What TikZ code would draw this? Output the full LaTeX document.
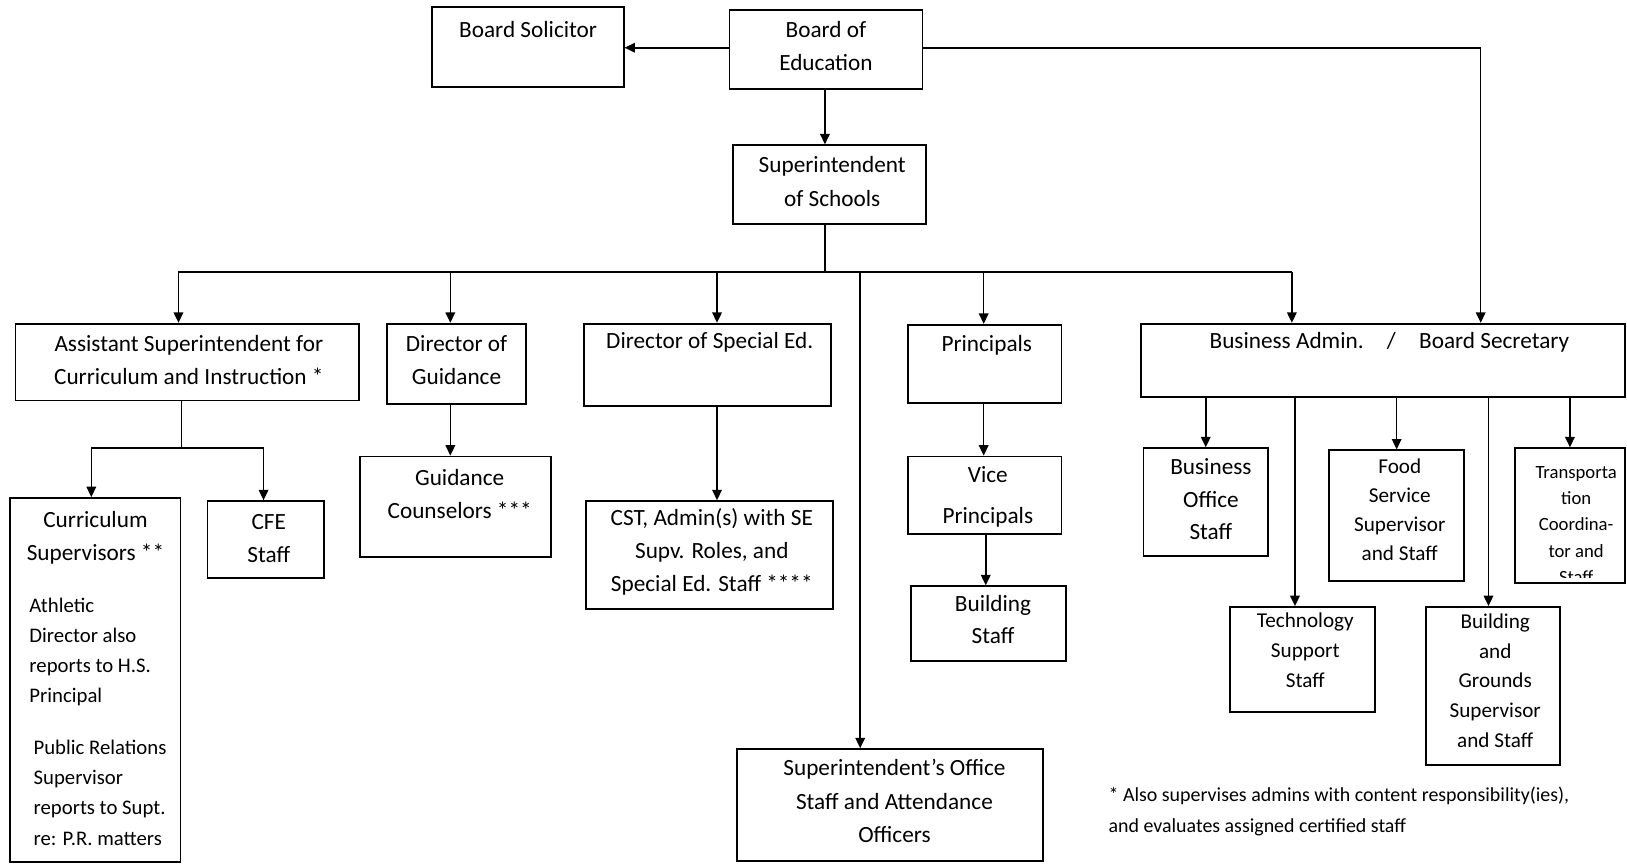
\documentclass[tikz,border=0pt]{standalone}
\usepackage{fontspec}
\setmainfont{Carlito}
\usetikzlibrary{arrows.meta,fit}
\begin{document}
\begin{tikzpicture}[x=0.5pt,y=-0.5pt,
  box/.style={draw, line width=0.9pt, inner sep=0pt},
  conn/.style={line width=0.75pt},
  arr/.style={conn, -{Triangle[length=5pt,width=4.6pt]}},
  txt/.style={align=center, inner sep=0pt, font=\fontsize{11.2}{16}\selectfont},
  txtm/.style={align=center, inner sep=0pt, font=\fontsize{10.2}{14.4}\selectfont},
  txts/.style={align=left, inner sep=0pt, anchor=west, font=\fontsize{10}{14.5}\selectfont},
  txtt/.style={align=center, inner sep=0pt, font=\fontsize{9}{12.75}\selectfont},
  note/.style={align=left, inner sep=0pt, anchor=west, font=\fontsize{9.6}{14.5}\selectfont}]
\useasboundingbox (0,0) rectangle (1568,833);
% boxes
\node[box, fit={(416,7)(601,84)}] (sol) {};
\node[box, fit={(703,10)(889,86)}] (boe) {};
\node[box, fit={(706,140)(892,216)}] (sup) {};
\node[box, fit={(15,312)(346,386)}] (asst) {};
\node[box, fit={(373,312)(507,389)}] (gd) {};
\node[box, fit={(563,312)(801,391)}] (sped) {};
\node[box, fit={(875,313)(1023,388)}] (prin) {};
\node[box, fit={(1100,312)(1566,383)}] (ba) {};
\node[box, fit={(10,480)(174,831)}] (cur) {};
\node[box, fit={(200,483)(312,557)}] (cfe) {};
\node[box, fit={(347,440)(531,537)}] (gc) {};
\node[box, fit={(565,483)(803,587)}] (cst) {};
\node[box, fit={(875,440)(1023,515)}] (vp) {};
\node[box, fit={(878,565)(1027,637)}] (bst) {};
\node[box, fit={(710,722)(1005,830)}] (soff) {};
\node[box, fit={(1102,432)(1222,536)}] (bos) {};
\node[box, fit={(1185,585)(1325,686)}] (tech) {};
\node[box, fit={(1281,434)(1411,560)}] (food) {};
\node[box, fit={(1374,585)(1503,737)}] (bg) {};
\node[box, fit={(1460,432)(1566,562)}] (trn) {};
% texts
\node[txt] (tsol) at (509,28) {Board Solicitor};
\node[txt] (tboe) at (796,44) {Board of\\Education};
\node[txt] (tsup) at (802,175) {Superintendent\\of Schools};
\node[txt] (tasst) at (182,347) {Assistant Superintendent for\\Curriculum and Instruction *};
\node[txt] (tgd) at (440,347) {Director of\\Guidance};
\node[txt] (tsped) at (684,330) {Director of Special Ed.};
\node[txt] (tprin) at (951,333) {Principals};
\node[txt] (tba) at (1339,330) {Business Admin.\quad/\quad Board Secretary};
\node[txt] (tcur) at (92,518) {Curriculum\\Supervisors **};
\node[txts] (tath) at (28,628) {Athletic\\Director also\\reports to H.S.\\Principal};
\node[txts] (tpr) at (32,764) {Public Relations\\Supervisor\\reports to Supt.\\re: P.R. matters};
\node[txt] (tcfe) at (259,519) {CFE\\Staff};
\node[txt] (tgc) at (443,476) {Guidance\\Counselors ***};
\node[txt] (tcst) at (686,532) {CST, Admin(s) with SE\\Supv. Roles, and\\Special Ed. Staff ****};
\node[txt, font=\fontsize{11.2}{20}\selectfont] (tvp) at (952,479) {Vice\\Principals};
\node[txt, font=\fontsize{11.2}{15}\selectfont] (tbst) at (957,597) {Building\\Staff};
\node[txt] (tsoff) at (862,772) {Superintendent’s Office\\Staff and Attendance\\Officers};
\node[txt, font=\fontsize{11.2}{15.5}\selectfont] (tbos) at (1167,481) {Business\\Office\\Staff};
\node[txtm] (ttech) at (1258,627) {Technology\\Support\\Staff};
\node[txtm, font=\fontsize{10.2}{14}\selectfont] (tfood) at (1349,491) {Food\\Service\\Supervisor\\and Staff};
\node[txtm, font=\fontsize{10.2}{14.3}\selectfont] (tbg) at (1441,656) {Building\\and\\Grounds\\Supervisor\\and Staff};
\begin{scope}
\clip (1460,432) rectangle (1566,557);
\node[txtt] (ttrn) at (1519,506) {Transporta\\tion\\Coordina-\\tor and\\Staff};
\end{scope}
\node[note] (tnote) at (1068,782) {* Also supervises admins with content responsibility(ies),\\and evaluates assigned certified staff};
% coordinates
\coordinate (yTop) at (0,46);
\coordinate (bsx) at (1427,0);
\coordinate (vx) at (795,0);
\coordinate (bus) at (795,262);
\coordinate (busL) at (172,262);
\coordinate (busR) at (1245,262);
\coordinate (d2) at (434,262);
\coordinate (d3) at (691,262);
\coordinate (d4) at (948,262);
\coordinate (d6) at (829,262);
\coordinate (aj) at (175,432);
\coordinate (ajL) at (88,432);
\coordinate (ajR) at (254,432);
% connectors
\draw[arr] (boe.west |- yTop) -- (sol.east |- yTop);
\draw[arr] (boe.east |- yTop) -| (ba.north -| bsx);
\draw[arr] (boe.south -| vx) -- (sup.north -| vx);
\draw[conn] (sup.south -| vx) -- (bus);
\draw[conn] (busL) -- (busR);
\draw[arr] (busL) -- (busL |- asst.north);
\draw[arr] (d2) -- (d2 |- gd.north);
\draw[arr] (d3) -- (d3 |- sped.north);
\draw[arr] (d4) -- (d4 |- prin.north);
\draw[arr] (busR) -- (busR |- ba.north);
\draw[arr] (d6) -- (d6 |- soff.north);
\draw[conn] (asst.south -| aj) -- (aj);
\draw[conn] (ajL) -- (ajR);
\draw[arr] (ajL) -- (ajL |- cur.north);
\draw[arr] (ajR) -- (ajR |- cfe.north);
\draw[arr] (gd.south -| d2) -- (gc.north -| d2);
\draw[arr] (sped.south -| d3) -- (cst.north -| d3);
\draw[arr] ([xshift=-0.5pt]prin.south) -- ([xshift=-0.5pt]vp.north);
\draw[arr] ([xshift=0.5pt]vp.south) -- ([xshift=0.5pt]vp.south |- bst.north);
\draw[arr] (ba.south -| bos.north) -- (bos.north);
\draw[arr] ([xshift=-3.5pt]ba.south -| tech.north) -- ([xshift=-3.5pt]tech.north);
\draw[arr] (ba.south -| food.north) -- (food.north);
\draw[arr] ([xshift=-2pt]ba.south -| bg.north) -- ([xshift=-2pt]bg.north);
\draw[arr] (ba.south -| trn.north) -- (trn.north);
\end{tikzpicture}
\end{document}
